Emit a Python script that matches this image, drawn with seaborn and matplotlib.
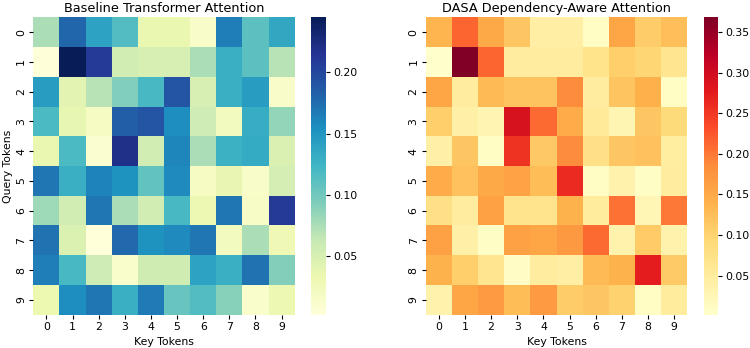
import numpy as np
import matplotlib
matplotlib.use("Agg")
import matplotlib.pyplot as plt
import seaborn as sns

tokens = [str(i) for i in range(10)]

baseline_attention = [
    [0.075, 0.180, 0.140, 0.115, 0.035, 0.035, 0.015, 0.165, 0.110, 0.135],
    [0.003, 0.245, 0.210, 0.055, 0.050, 0.050, 0.075, 0.130, 0.110, 0.070],
    [0.145, 0.040, 0.070, 0.093, 0.120, 0.190, 0.050, 0.130, 0.145, 0.015],
    [0.118, 0.038, 0.020, 0.185, 0.190, 0.155, 0.058, 0.022, 0.132, 0.085],
    [0.035, 0.118, 0.010, 0.220, 0.055, 0.160, 0.075, 0.128, 0.133, 0.048],
    [0.170, 0.130, 0.162, 0.152, 0.108, 0.158, 0.020, 0.037, 0.015, 0.053],
    [0.080, 0.055, 0.170, 0.075, 0.055, 0.120, 0.032, 0.170, 0.017, 0.210],
    [0.172, 0.047, 0.002, 0.178, 0.152, 0.158, 0.170, 0.022, 0.075, 0.030],
    [0.165, 0.120, 0.058, 0.012, 0.057, 0.057, 0.140, 0.130, 0.172, 0.092],
    [0.033, 0.155, 0.170, 0.130, 0.168, 0.105, 0.115, 0.090, 0.012, 0.032],
]

dasa_attention = [
    [0.135, 0.215, 0.150, 0.115, 0.045, 0.045, 0.012, 0.155, 0.108, 0.125],
    [0.002, 0.368, 0.215, 0.050, 0.050, 0.050, 0.070, 0.105, 0.095, 0.065],
    [0.155, 0.050, 0.130, 0.120, 0.120, 0.185, 0.050, 0.118, 0.142, 0.012],
    [0.105, 0.040, 0.030, 0.290, 0.210, 0.148, 0.055, 0.028, 0.115, 0.090],
    [0.040, 0.115, 0.012, 0.255, 0.113, 0.185, 0.075, 0.115, 0.122, 0.048],
    [0.148, 0.122, 0.150, 0.158, 0.127, 0.262, 0.012, 0.035, 0.008, 0.050],
    [0.075, 0.050, 0.160, 0.068, 0.068, 0.140, 0.052, 0.205, 0.025, 0.200],
    [0.160, 0.040, 0.008, 0.162, 0.155, 0.170, 0.210, 0.035, 0.110, 0.035],
    [0.140, 0.105, 0.065, 0.010, 0.050, 0.045, 0.130, 0.140, 0.275, 0.112],
    [0.035, 0.155, 0.168, 0.127, 0.168, 0.108, 0.115, 0.102, 0.012, 0.052],
]

fig = plt.figure(figsize=(7.5, 3.48), dpi=100)
W, H = 750.0, 348.0

def rect(x0, x1, ytop, ybot):
    return [x0 / W, 1 - ybot / H, (x1 - x0) / W, (ybot - ytop) / H]

ax1 = fig.add_axes(rect(33.3, 294.7, 17.3, 314.7))
cax1 = fig.add_axes(rect(311, 326, 17.3, 314.7))
ax2 = fig.add_axes(rect(425.7, 687.3, 17.3, 314.7))
cax2 = fig.add_axes(rect(704.3, 718.3, 17.3, 314.7))

tick_fs = 7.8
sns.heatmap(np.array(baseline_attention), cmap="YlGnBu", ax=ax1, cbar_ax=cax1,
            xticklabels=tokens, yticklabels=tokens)
sns.heatmap(np.array(dasa_attention), cmap="YlOrRd", ax=ax2, cbar_ax=cax2,
            xticklabels=tokens, yticklabels=tokens)

ax1.set_title("Baseline Transformer Attention", fontsize=9.3, pad=4)
ax2.set_title("DASA Dependency-Aware Attention", fontsize=9.3, pad=4)
ax1.set_xlabel("Key Tokens", fontsize=tick_fs, labelpad=3.5)
ax2.set_xlabel("Key Tokens", fontsize=tick_fs, labelpad=3.5)
ax1.set_ylabel("Query Tokens", fontsize=tick_fs, labelpad=2)

for ax in (ax1, ax2):
    ax.tick_params(labelsize=tick_fs, length=2.6, pad=2.5)
for ax in (cax1, cax2):
    ax.tick_params(labelsize=tick_fs, length=2.6, pad=2.5)

fig.savefig("out.png", dpi=100)
